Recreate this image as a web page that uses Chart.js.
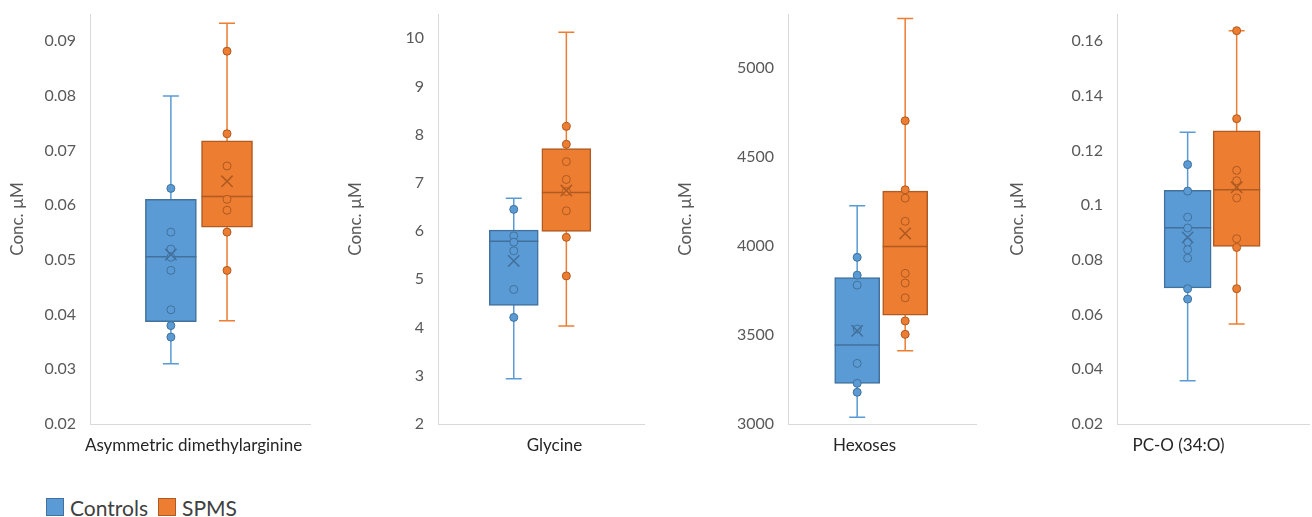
<!DOCTYPE html>
<html>
<head>
<meta charset="utf-8">
<script src="https://cdn.jsdelivr.net/npm/chart.js@4.4.1/dist/chart.umd.min.js"></script>
<style>
  body { margin: 0; background: #fff; width: 1312px; height: 517px; position: relative; overflow: hidden; font-family: Lato, sans-serif; }
  canvas { position: absolute; top: 0; }
  #legend { position: absolute; left: 46px; top: 496px; height: 22px; display: flex; align-items: center; font-size: 21px; color: #404040; }
  #legend .sw { display: inline-block; width: 16px; height: 16px; border: 1.5px solid; margin-right: 6px; }
  #legend .item { display: flex; align-items: center; margin-right: 10px; }
</style>
</head>
<body>
<canvas id="c0" width="304" height="470" style="left:7px"></canvas>
<canvas id="c1" width="300" height="470" style="left:345px"></canvas>
<canvas id="c2" width="302" height="470" style="left:675px"></canvas>
<canvas id="c3" width="303" height="470" style="left:1007px"></canvas>
<div id="legend"></div>

<script>
const seriesNames = ['Controls', 'SPMS'];
const categories = ['Asymmetric dimethylarginine', 'Glycine', 'Hexoses', 'PC-O (34:O)'];
const axisTitle = 'Conc. µM';

// five-number summaries: [min, q1, median, q3, max]
const admaControls = [0.031, 0.0387, 0.0506, 0.0611, 0.080];
const admaControlsMean = 0.0510;
const admaControlsPts = [0.0631, 0.0551, 0.0520, 0.0505, 0.0481, 0.0409, 0.0380, 0.0359];
const admaSpms = [0.0389, 0.0560, 0.0616, 0.0718, 0.0933];
const admaSpmsMean = 0.0644;
const admaSpmsPts = [0.0882, 0.0731, 0.0672, 0.0611, 0.0591, 0.0551, 0.0481];
const admaTicks = [0.02, 0.03, 0.04, 0.05, 0.06, 0.07, 0.08, 0.09];

const glyControls = [2.94, 4.46, 5.79, 6.02, 6.68];
const glyControlsMean = 5.38;
const glyControlsPts = [6.45, 5.90, 5.77, 5.59, 4.79, 4.21];
const glySpms = [4.03, 5.99, 6.80, 7.71, 10.12];
const glySpmsMean = 6.84;
const glySpmsPts = [8.17, 7.80, 7.44, 7.07, 6.82, 6.42, 5.87, 5.07];
const glyTicks = [2, 3, 4, 5, 6, 7, 8, 9, 10];

const hexControls = [3038, 3228, 3443, 3822, 4224];
const hexControlsMean = 3523;
const hexControlsPts = [3935, 3835, 3779, 3533, 3340, 3228, 3178];
const hexSpms = [3411, 3611, 3996, 4306, 5275];
const hexSpmsMean = 4069;
const hexSpmsPts = [4701, 4314, 4267, 4137, 3845, 3791, 3708, 3578, 3503];
const hexTicks = [3000, 3500, 4000, 4500, 5000];

const pcoControls = [0.0358, 0.0698, 0.0918, 0.1055, 0.1267];
const pcoControlsMean = 0.0883;
const pcoControlsPts = [0.1149, 0.1052, 0.0957, 0.0917, 0.0865, 0.0838, 0.0807, 0.0695, 0.0657];
const pcoSpms = [0.0566, 0.0850, 0.1057, 0.1273, 0.1639];
const pcoSpmsMean = 0.1066;
const pcoSpmsPts = [0.1639, 0.1317, 0.1128, 0.1090, 0.1027, 0.0878, 0.0846, 0.0695];
const pcoTicks = [0.02, 0.04, 0.06, 0.08, 0.1, 0.12, 0.14, 0.16];

const fills = ['#5B9BD5', '#ED7D31'];
const borders = ['#41719C', '#AE5A21'];
const slotX = [-0.134, 0.12]; // box centres on the hidden x range [-0.5, 0.5]

const panels = [
  { id: 'c0', cat: categories[0], min: 0.02, max: 0.095, ticks: admaTicks, yWidth: 83, labelOffset: -7, barW: 51,
    boxes: [admaControls, admaSpms], means: [admaControlsMean, admaSpmsMean], pts: [admaControlsPts, admaSpmsPts] },
  { id: 'c1', cat: categories[1], min: 2, max: 10.5, ticks: glyTicks, yWidth: 93, labelOffset: 13, barW: 49,
    boxes: [glyControls, glySpms], means: [glyControlsMean, glySpmsMean], pts: [glyControlsPts, glySpmsPts] },
  { id: 'c2', cat: categories[2], min: 3000, max: 5300, ticks: hexTicks, yWidth: 113, labelOffset: -18, barW: 45,
    boxes: [hexControls, hexSpms], means: [hexControlsMean, hexSpmsMean], pts: [hexControlsPts, hexSpmsPts] },
  { id: 'c3', cat: categories[3], min: 0.02, max: 0.17, ticks: pcoTicks, yWidth: 110, labelOffset: -35, barW: 47,
    boxes: [pcoControls, pcoSpms], means: [pcoControlsMean, pcoSpmsMean], pts: [pcoControlsPts, pcoSpmsPts] }
];

// whiskers behind the boxes, medians on top of them
const boxParts = {
  id: 'boxParts',
  beforeDatasetDraw(chart, args) {
    if (args.meta.type !== 'bar') return;
    const ds = chart.data.datasets[args.index];
    const y = chart.scales.y;
    const ctx = chart.ctx;
    ctx.save();
    ctx.lineWidth = 1.5;
    args.meta.data.forEach((bar, j) => {
      const five = ds.fives[j];
      ctx.strokeStyle = fills[j];
      ctx.beginPath();
      ctx.moveTo(bar.x, y.getPixelForValue(five[4]));
      ctx.lineTo(bar.x, y.getPixelForValue(five[0]));
      [five[0], five[4]].forEach(v => {
        const py = y.getPixelForValue(v);
        ctx.moveTo(bar.x - 8, py);
        ctx.lineTo(bar.x + 8, py);
      });
      ctx.stroke();
    });
    ctx.restore();
  },
  afterDatasetDraw(chart, args) {
    if (args.meta.type !== 'bar') return;
    const ds = chart.data.datasets[args.index];
    const y = chart.scales.y;
    const ctx = chart.ctx;
    ctx.save();
    ctx.lineWidth = 1.5;
    args.meta.data.forEach((bar, j) => {
      const py = y.getPixelForValue(ds.fives[j][2]);
      ctx.strokeStyle = borders[j];
      ctx.beginPath();
      ctx.moveTo(bar.x - bar.width / 2, py);
      ctx.lineTo(bar.x + bar.width / 2, py);
      ctx.stroke();
    });
    ctx.restore();
  }
};

function buildDatasets(p) {
  const sets = [{
    type: 'bar', order: 3, fives: p.boxes,
    data: p.boxes.map((five, i) => ({ x: slotX[i], y: [five[1], five[3]] })),
    backgroundColor: fills, borderColor: borders, borderWidth: 1.5, borderSkipped: false,
    barThickness: p.barW
  }];
  p.boxes.forEach((five, i) => {
    sets.push({
      type: 'scatter', order: 1,
      data: p.pts[i].map(v => ({ x: slotX[i], y: v })),
      pointRadius: 4, backgroundColor: fills[i], borderColor: borders[i], borderWidth: 1
    });
    sets.push({
      type: 'scatter', order: 0,
      data: [{ x: slotX[i], y: p.means[i] }],
      pointStyle: 'crossRot', pointRadius: 8, borderColor: borders[i], borderWidth: 1.5
    });
  });
  return sets;
}

panels.forEach(p => {
  new Chart(document.getElementById(p.id), {
    type: 'bar',
    data: { datasets: buildDatasets(p) },
    plugins: [boxParts],
    options: {
      responsive: false,
      animation: false,
      layout: { autoPadding: false, padding: { top: 14, left: 0, right: 0, bottom: 0 } },
      plugins: { legend: { display: false }, tooltip: { enabled: false } },
      scales: {
        x: {
          type: 'linear', min: -0.5, max: 0.5, offset: false,
          afterBuildTicks: s => { s.ticks = [{ value: 0 }]; },
          afterFit: s => { s.height = 46; s.paddingLeft = 0; s.paddingRight = 0; },
          grid: { display: false, drawTicks: false },
          border: { display: true, color: '#D9D9D9', width: 1 },
          ticks: { color: '#262626', font: { family: 'Lato', size: 17 }, padding: 11,
                   labelOffset: p.labelOffset, maxRotation: 0, autoSkip: false,
                   callback: () => p.cat }
        },
        y: {
          min: p.min, max: p.max,
          afterBuildTicks: s => { s.ticks = p.ticks.map(v => ({ value: v })); },
          afterFit: s => { s.width = p.yWidth; s.paddingTop = 0; s.paddingBottom = 0; },
          grid: { display: false, drawTicks: false },
          border: { display: true, color: '#D9D9D9', width: 1 },
          ticks: { color: '#595959', font: { family: 'Lato', size: 16 }, padding: 14,
                   callback: v => String(+v.toFixed(4)) },
          title: { display: true, text: axisTitle, color: '#595959',
                   font: { family: 'Lato', size: 17 }, padding: 0 }
        }
      }
    }
  });
});

const legendEl = document.getElementById('legend');
seriesNames.forEach((name, i) => {
  const item = document.createElement('span');
  item.className = 'item';
  const sw = document.createElement('span');
  sw.className = 'sw';
  sw.style.background = fills[i];
  sw.style.borderColor = borders[i];
  item.appendChild(sw);
  item.appendChild(document.createTextNode(name));
  legendEl.appendChild(item);
});
</script>
</body>
</html>
